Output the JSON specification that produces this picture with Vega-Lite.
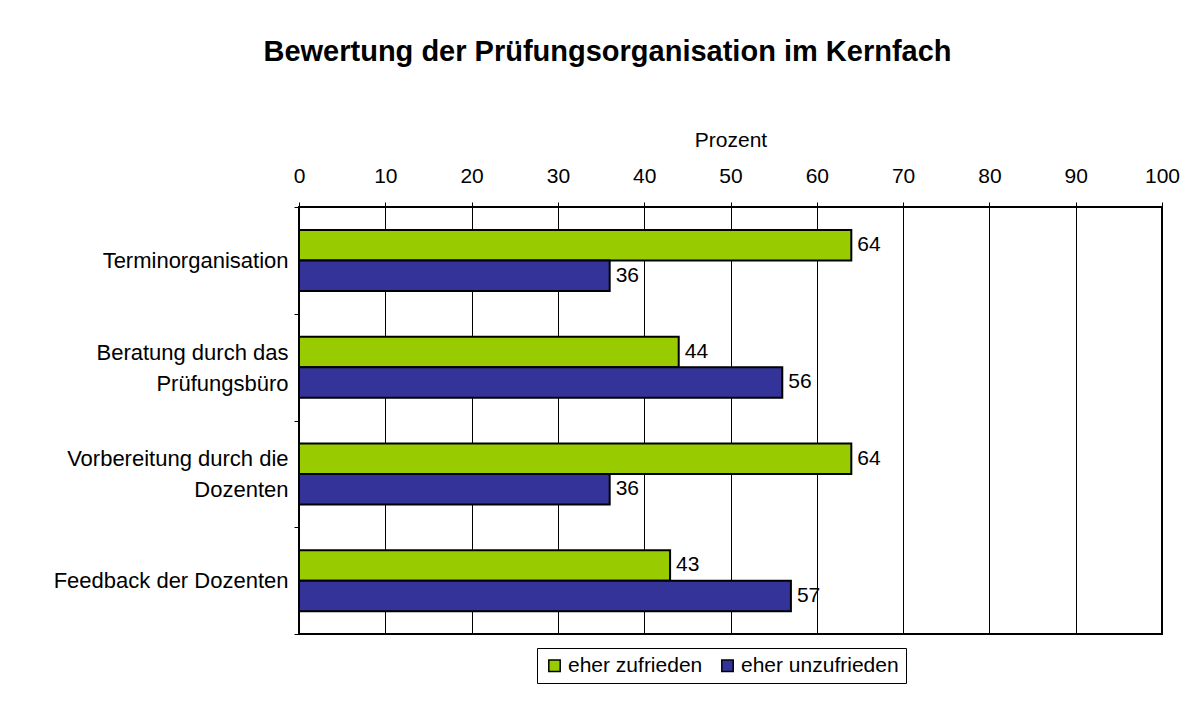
{
  "$schema": "https://vega.github.io/schema/vega-lite/v6.json",
  "width": 863,
  "height": 427,
  "autosize": {"type": "none"},
  "padding": {"left": 299, "top": 207, "right": 34, "bottom": 68},
  "background": "white",
  "title": {
    "text": "Bewertung der Prüfungsorganisation im Kernfach",
    "font": "Liberation Sans",
    "fontSize": 29,
    "fontWeight": "bold",
    "color": "black",
    "anchor": "middle",
    "dx": -123,
    "offset": 62
  },
  "config": {
    "font": "Liberation Sans",
    "view": {"stroke": "black", "strokeWidth": 2}
  },
  "data": {
    "values": [
      {"cat": "Terminorganisation", "grp": "eher zufrieden", "value": 64},
      {"cat": "Terminorganisation", "grp": "eher unzufrieden", "value": 36},
      {"cat": "Beratung durch das Prüfungsbüro", "grp": "eher zufrieden", "value": 44},
      {"cat": "Beratung durch das Prüfungsbüro", "grp": "eher unzufrieden", "value": 56},
      {"cat": "Vorbereitung durch die Dozenten", "grp": "eher zufrieden", "value": 64},
      {"cat": "Vorbereitung durch die Dozenten", "grp": "eher unzufrieden", "value": 36},
      {"cat": "Feedback der Dozenten", "grp": "eher zufrieden", "value": 43},
      {"cat": "Feedback der Dozenten", "grp": "eher unzufrieden", "value": 57}
    ]
  },
  "encoding": {
    "y": {
      "field": "cat",
      "type": "nominal",
      "sort": ["Terminorganisation", "Beratung durch das Prüfungsbüro", "Vorbereitung durch die Dozenten", "Feedback der Dozenten"],
      "scale": {"paddingInner": 0, "paddingOuter": 0},
      "axis": {
        "title": null,
        "orient": "left",
        "domain": false,
        "tickBand": "extent",
        "ticks": true,
        "tickSize": 5,
        "tickColor": "black",
        "tickWidth": 1,
        "labelFontSize": 22,
        "labelColor": "black",
        "labelPadding": 6,
        "labelLimit": 400,
        "labelLineHeight": 31,
        "labelOffset": {"condition": {"test": "datum.value == 'Beratung durch das Prüfungsbüro' || datum.value == 'Vorbereitung durch die Dozenten'", "value": -15}, "value": 0},
        "labelExpr": "datum.value == 'Beratung durch das Prüfungsbüro' ? ['Beratung durch das', 'Prüfungsbüro'] : datum.value == 'Vorbereitung durch die Dozenten' ? ['Vorbereitung durch die', 'Dozenten'] : datum.value"
      }
    },
    "yOffset": {
      "field": "grp",
      "type": "nominal",
      "scale": {"domain": ["eher zufrieden", "eher unzufrieden"], "paddingInner": 0, "paddingOuter": 0.75}
    },
    "x": {
      "field": "value",
      "type": "quantitative",
      "scale": {"domain": [0, 100], "nice": false},
      "axis": {
        "orient": "top",
        "title": "Prozent",
        "titleFontSize": 21,
        "titleFontWeight": "normal",
        "titleColor": "black",
        "titlePadding": 15,
        "values": [0, 10, 20, 30, 40, 50, 60, 70, 80, 90, 100],
        "domain": false,
        "grid": true,
        "gridColor": "black",
        "gridOpacity": 1,
        "gridWidth": 1,
        "ticks": true,
        "tickSize": 5,
        "tickColor": "black",
        "labelFontSize": 21,
        "labelColor": "black",
        "labelPadding": 16,
        "labelFlush": false
      }
    }
  },
  "layer": [
    {
      "mark": {"type": "bar", "stroke": "black", "strokeWidth": 2},
      "encoding": {
        "color": {
          "field": "grp",
          "type": "nominal",
          "scale": {"domain": ["eher zufrieden", "eher unzufrieden"], "range": ["#99CC00", "#333399"]},
          "legend": {
            "title": null,
            "orient": "none",
            "legendX": 238,
            "legendY": 441,
            "direction": "horizontal",
            "symbolType": "square",
            "symbolSize": 130,
            "symbolStrokeColor": "black",
            "symbolStrokeWidth": 1.5,
            "symbolOpacity": 1,
            "labelFontSize": 21,
            "labelLimit": 300,
            "labelColor": "black",
            "labelOffset": 3,
            "columnPadding": 14,
            "strokeColor": "black",
            "fillColor": "white",
            "padding": 7
          }
        }
      }
    },
    {
      "mark": {"type": "text", "align": "left", "baseline": "middle", "dx": 6, "fontSize": 21, "color": "black"},
      "encoding": {
        "text": {"field": "value", "type": "quantitative"}
      }
    }
  ]
}
